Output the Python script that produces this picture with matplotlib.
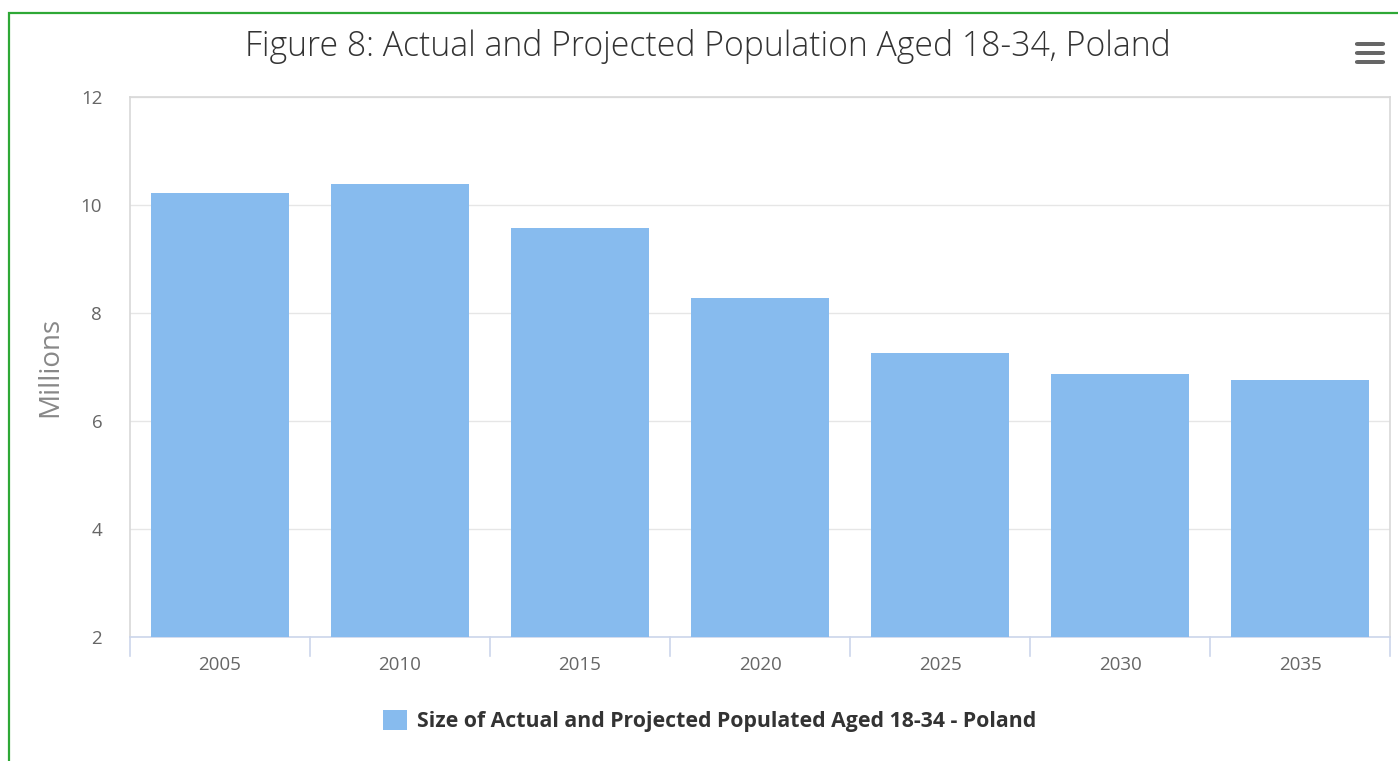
import matplotlib
matplotlib.use("Agg")
import matplotlib.pyplot as plt
from matplotlib.patches import Rectangle, FancyBboxPatch
import numpy as np

years = ["2005", "2010", "2015", "2020", "2025", "2030", "2035"]
values = [10.22, 10.38, 9.58, 8.28, 7.26, 6.87, 6.76]
yticks = [2, 4, 6, 8, 10, 12]
title = "Figure 8: Actual and Projected Population Aged 18-34, Poland"
ylabel = "Millions"
legend_label = "Size of Actual and Projected Populated Aged 18-34 - Poland"

plt.rcParams['font.family'] = ['Open Sans', 'DejaVu Sans']

W, H = 1398, 761
fig = plt.figure(figsize=(W / 100, H / 100), dpi=100)
fig.patch.set_facecolor("white")

# green outer border
fig.add_artist(Rectangle((9 / W, -0.1), 1.2, (H - 13) / H + 0.1, transform=fig.transFigure,
                         fill=False, edgecolor="#2ea836", linewidth=1.6))

ax = fig.add_axes([130 / W, 1 - 637 / H, 1260 / W, 540 / H])
x = np.arange(len(years))
bar_color = "#87bbee"
ax.bar(x, [v - 2 for v in values], bottom=2, width=0.767, color=bar_color,
       label=legend_label, zorder=3)
ax.set_xlim(-0.5, len(years) - 0.5)
ax.set_ylim(2, 12)
ax.set_yticks(yticks)
ax.set_yticklabels([str(t) for t in yticks], color="#666666", fontsize=13.5)
ax.set_xticks(x)
ax.set_xticklabels(years, color="#666666", fontsize=13.5)
ax.tick_params(axis="y", length=0, pad=20)
ax.tick_params(axis="x", length=0, pad=14)
ax.grid(axis="y", color="#e6e6e6", linewidth=1, zorder=0)
for s in ["left", "top", "right"]:
    ax.spines[s].set_color("#d8d8d8")
    ax.spines[s].set_linewidth(1.2)
ax.spines["bottom"].set_color("#ccd6eb")
ax.spines["bottom"].set_linewidth(1.2)
# category boundary ticks
for b in np.arange(-0.5, len(years) + 0.5, 1.0):
    ax.plot([b, b], [0, -0.035], transform=ax.get_xaxis_transform(), color="#ccd6eb",
            linewidth=1.2, clip_on=False)

ax.set_ylabel(ylabel, color="#888888", fontsize=20, labelpad=12)

fig.text(708 / W, 1 - 46 / H, title, ha="center", va="center", fontsize=24.3,
         color="#333333", fontweight="light")

leg = fig.legend(loc="center", bbox_to_anchor=(710 / W, 1 - 721 / H), frameon=False,
                 fontsize=15.3, handlelength=1.1, handleheight=1.1, handletextpad=0.5)
for t in leg.get_texts():
    t.set_color("#333333")
    t.set_fontweight("bold")

# menu icon
for yy in [44, 53, 62]:
    fig.add_artist(FancyBboxPatch((1355 / W, 1 - (yy + 2) / H), 30 / W, 4 / H,
                                  boxstyle="round,pad=0,rounding_size=0.002",
                                  transform=fig.transFigure, facecolor="#666666",
                                  edgecolor="none"))

fig.savefig("out.png", dpi=100)
